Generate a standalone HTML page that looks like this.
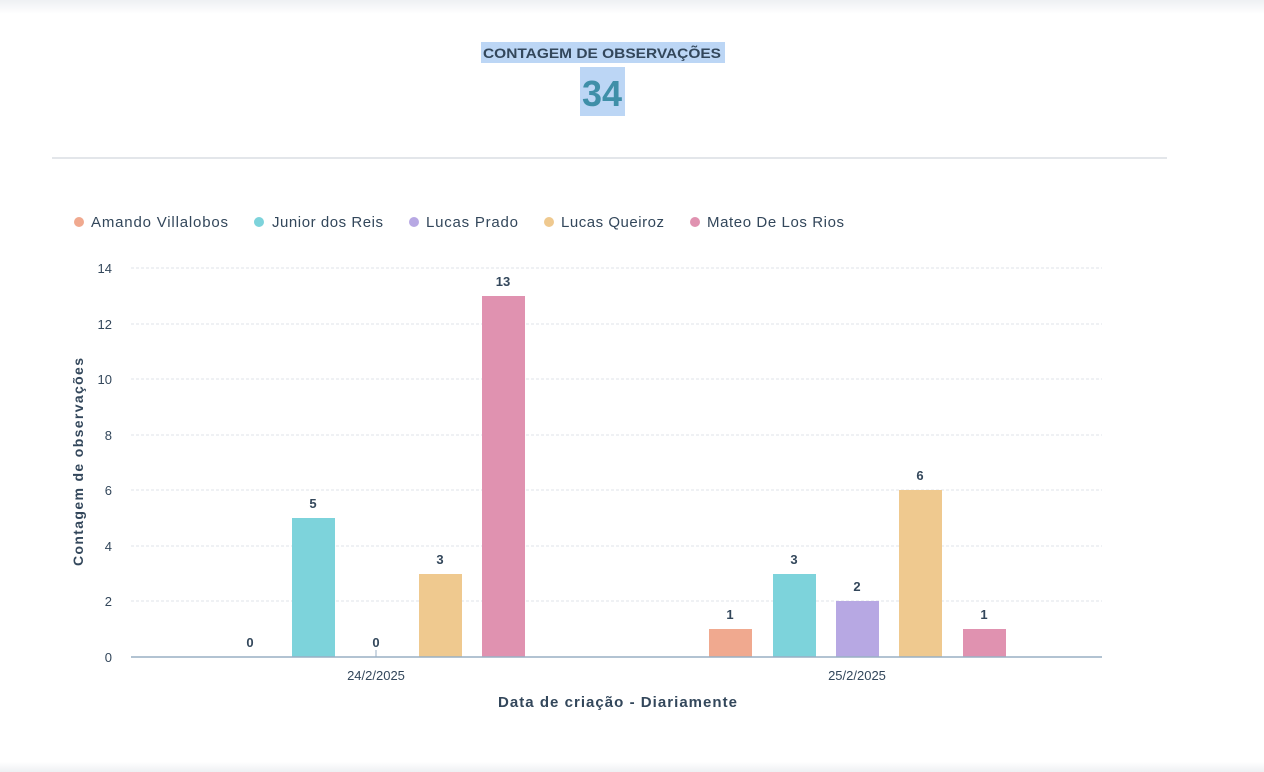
<!DOCTYPE html>
<html><head><meta charset="utf-8"><style>
html,body{margin:0;padding:0;background:#fff;}
body{width:1264px;height:772px;position:relative;overflow:hidden;font-family:"Liberation Sans",sans-serif;}
</style></head><body>
<div style="position:absolute;left:0;top:0;width:1264px;height:14px;background:linear-gradient(#eef0f3,#fff)"></div>
<div style="position:absolute;left:0;top:762px;width:1264px;height:10px;background:linear-gradient(#fff,#eef0f3)"></div>
<svg width="1264" height="772" style="position:absolute;left:0;top:0" font-family="Liberation Sans, sans-serif">
<rect x="481" y="42" width="244" height="21" fill="#bcd6f5"/>
<text x="483" y="58" font-size="14" font-weight="bold" fill="#33475b" textLength="238" lengthAdjust="spacingAndGlyphs">CONTAGEM DE OBSERVAÇÕES</text>
<rect x="580" y="67" width="45" height="49" fill="#bcd6f5"/>
<text x="602" y="106" text-anchor="middle" font-size="36" font-weight="bold" fill="#3f8fa8">34</text>
<line x1="52" y1="158" x2="1167" y2="158" stroke="#e3e6ea" stroke-width="2"/>
<g font-size="15" fill="#33475b">
<circle cx="79" cy="222" r="5" fill="#f0a98f"/><text x="91" y="227" textLength="137">Amando Villalobos</text>
<circle cx="259" cy="222" r="5" fill="#7dd3db"/><text x="272" y="227" textLength="111">Junior dos Reis</text>
<circle cx="414" cy="222" r="5" fill="#b7a8e3"/><text x="426" y="227" textLength="92">Lucas Prado</text>
<circle cx="549" cy="222" r="5" fill="#efc98f"/><text x="561" y="227" textLength="103">Lucas Queiroz</text>
<circle cx="695" cy="222" r="5" fill="#e092b0"/><text x="707" y="227" textLength="137">Mateo De Los Rios</text>
</g>
<g stroke="#dfe3e8" stroke-dasharray="3,2">
<line x1="131" x2="1102" y1="268" y2="268"/><line x1="131" x2="1102" y1="324" y2="324"/>
<line x1="131" x2="1102" y1="379" y2="379"/><line x1="131" x2="1102" y1="435" y2="435"/>
<line x1="131" x2="1102" y1="490" y2="490"/><line x1="131" x2="1102" y1="546" y2="546"/>
<line x1="131" x2="1102" y1="601" y2="601"/>
</g>
<g font-size="13" fill="#33475b" text-anchor="end">
<text x="112" y="273">14</text><text x="112" y="329">12</text><text x="112" y="384">10</text>
<text x="112" y="440">8</text><text x="112" y="495">6</text><text x="112" y="551">4</text>
<text x="112" y="606">2</text><text x="112" y="662">0</text>
</g>
<text transform="translate(83,566) rotate(-90)" font-size="14" font-weight="bold" fill="#33475b" textLength="208">Contagem de observações</text>
<rect x="292" y="518" width="43" height="139" fill="#7dd3db"/>
<rect x="419" y="574" width="43" height="83" fill="#efc98f"/>
<rect x="482" y="296" width="43" height="361" fill="#e092b0"/>
<rect x="709" y="629" width="43" height="28" fill="#f0a98f"/>
<rect x="773" y="574" width="43" height="83" fill="#7dd3db"/>
<rect x="836" y="601" width="43" height="56" fill="#b7a8e3"/>
<rect x="899" y="490" width="43" height="167" fill="#efc98f"/>
<rect x="963" y="629" width="43" height="28" fill="#e092b0"/>
<line x1="131" x2="1102" y1="657" y2="657" stroke="#99afc4" stroke-width="1.5"/>
<line x1="376" x2="376" y1="650" y2="657" stroke="#99afc4"/>
<g font-size="13" font-weight="bold" fill="#33475b" text-anchor="middle">
<text x="250" y="647">0</text><text x="313" y="508">5</text><text x="376" y="647">0</text>
<text x="440" y="564">3</text><text x="503" y="286">13</text>
<text x="730" y="619">1</text><text x="794" y="564">3</text><text x="857" y="591">2</text>
<text x="920" y="480">6</text><text x="984" y="619">1</text>
</g>
<g font-size="13" fill="#33475b" text-anchor="middle">
<text x="376" y="680">24/2/2025</text><text x="857" y="680">25/2/2025</text>
</g>
<text x="498" y="707" font-size="15" font-weight="bold" fill="#33475b" textLength="239">Data de criação - Diariamente</text>
</svg>
</body></html>
